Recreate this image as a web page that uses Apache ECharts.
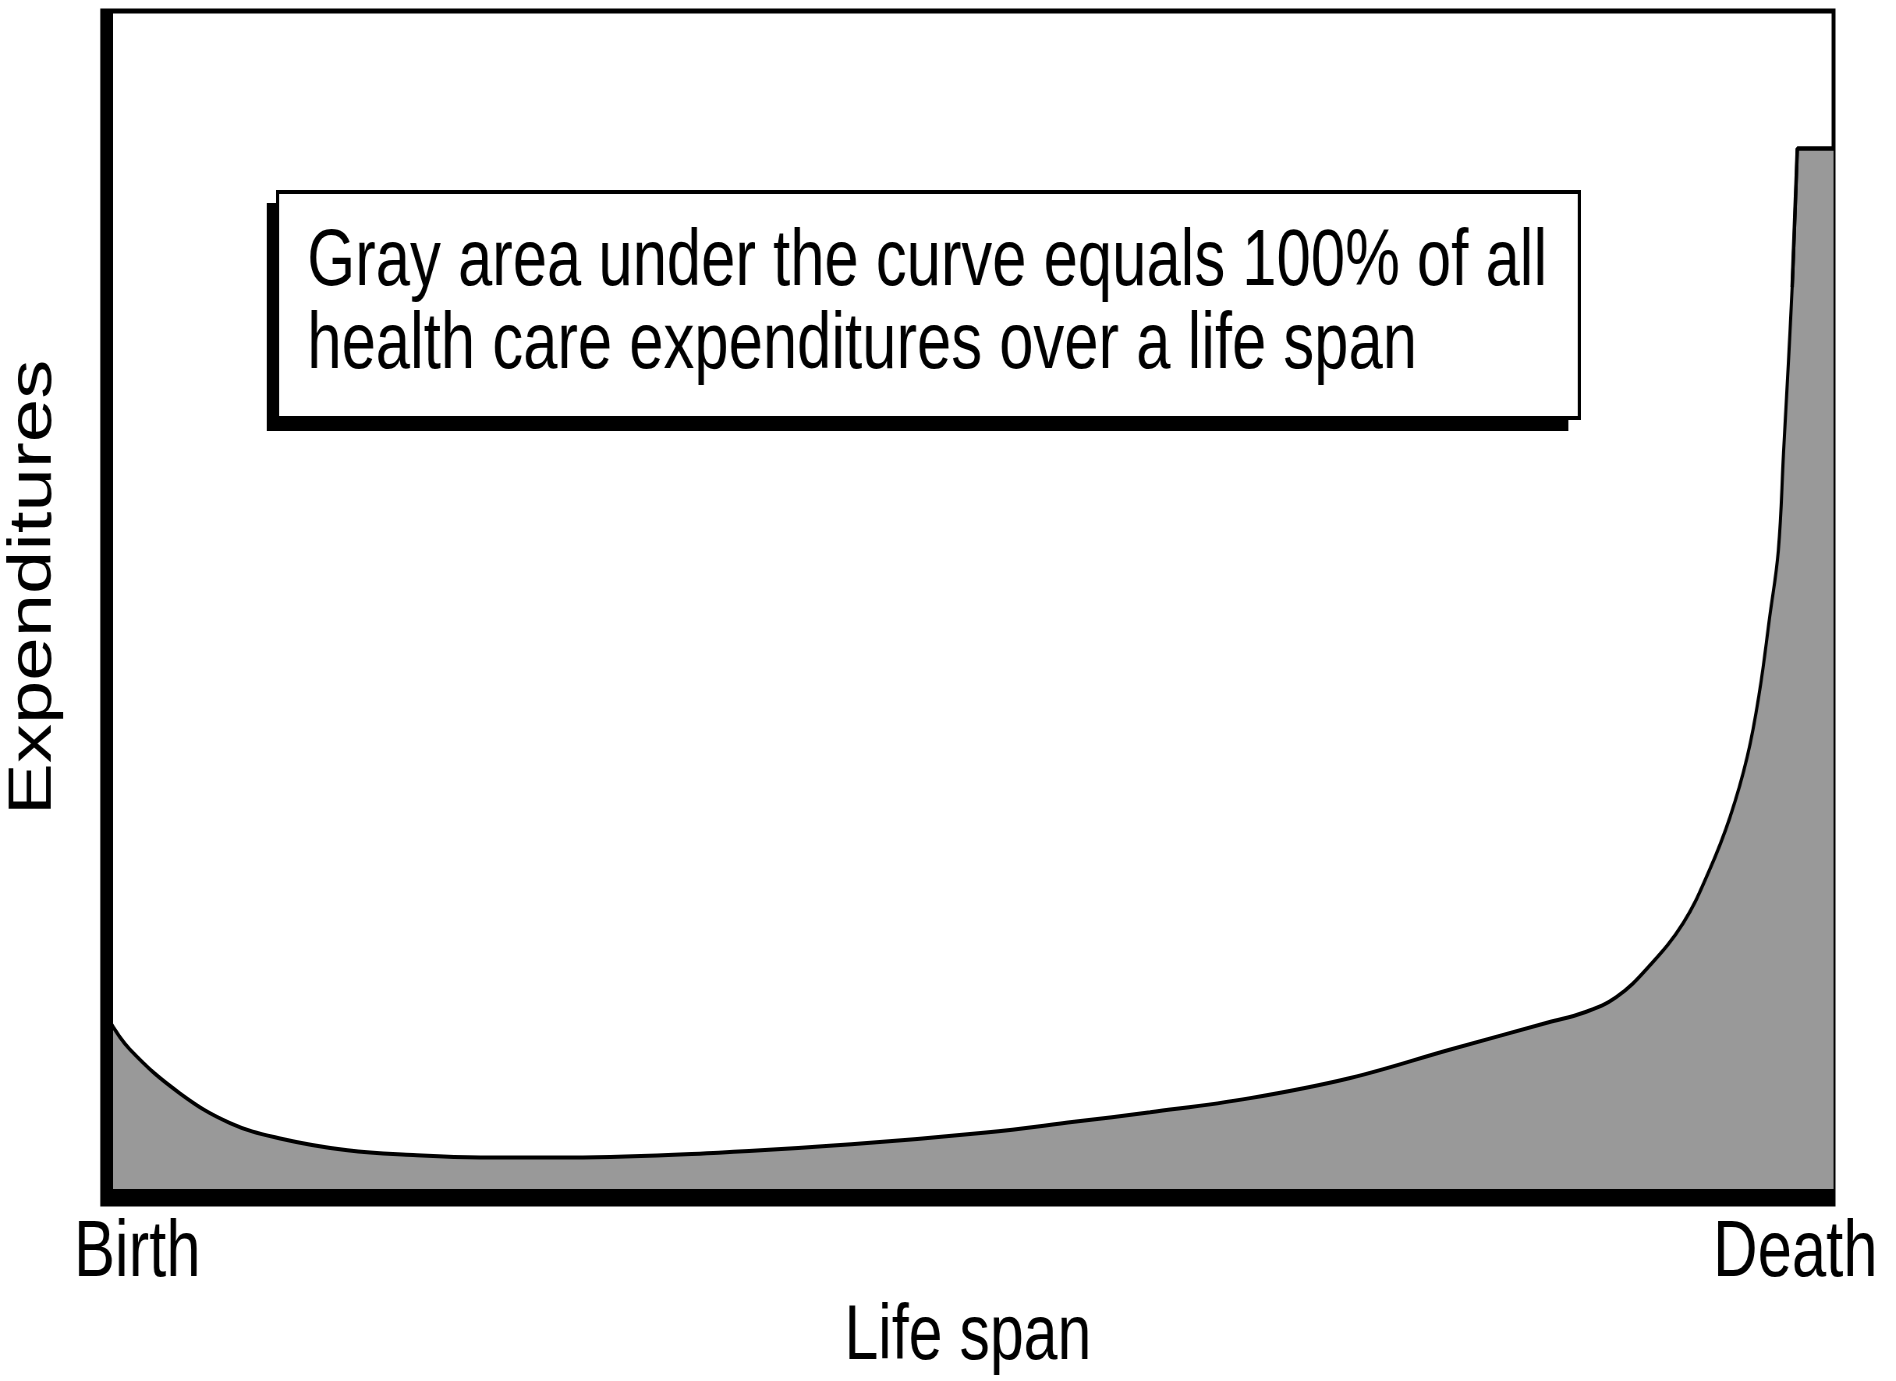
<!DOCTYPE html>
<html>
<head>
<meta charset="utf-8">
<title>Health care expenditures over a life span</title>
<script src="https://cdn.jsdelivr.net/npm/echarts@6/dist/echarts.min.js"></script>
<style>
html, body { margin: 0; padding: 0; background: #fff; overflow: hidden; }
/* the original figure is squeezed sideways, so the chart is drawn wider and squeezed back */
#chart { width: 2431px; height: 1381px; transform: scaleX(0.7799); transform-origin: 0 0; }
</style>
</head>
<body>
<div id="chart"></div>
<script>
// life span: 0 = birth, 100 = death
var lifeSpan = [0, 1.3, 4.2, 7.1, 10.0, 13.9, 17.7, 21.6, 26.8, 35.4, 43.1, 50.9, 56.0, 60.4,
	66.2, 72.0, 77.8, 83.5, 85.5, 87.4, 89.3, 91.3, 92.8, 94.0, 95.0, 95.7, 96.3, 96.8, 97.1, 97.6, 97.9];
var expenditures = [15.1, 12.4, 8.7, 6.2, 4.9, 3.9, 3.5, 3.3, 3.3, 3.7, 4.4, 5.4, 6.3, 7.1,
	8.3, 10.0, 12.4, 14.7, 15.5, 16.8, 19.4, 23.1, 27.5, 32.0, 37.1, 42.5, 48.9, 54.5, 62.7, 76.7, 88.4];
// last rise and the flat top just before death (drawn without smoothing)
var finalSpan = [97.6, 97.9, 100];
var finalLevel = [76.7, 88.4, 88.4];
var endLabels = ['Birth', 'Death'];
var xName = 'Life span';
var yName = 'Expenditures';
var note = 'Gray area under the curve equals 100% of all\nhealth care expenditures over a life span';

var chart = echarts.init(document.getElementById('chart'));

var font = '"Liberation Sans", Arial, Helvetica, sans-serif';

function pairs(xs, ys) {
	var out = [];
	for (var i = 0; i < xs.length; i++) {
		out.push([xs[i], ys[i]]);
	}
	return out;
}

var option = {
	animation: false,
	backgroundColor: '#fff',
	grid: {
		left: 131,
		right: 80,
		top: 11,
		bottom: 177,
		outerBoundsMode: 'none',
		containLabel: false,
		show: true,
		z: 3,
		backgroundColor: 'transparent',
		borderColor: '#000',
		borderWidth: 5
	},
	xAxis: {
		type: 'value',
		min: -0.31,
		max: 100,
		z: 5,
		axisLine: { onZero: true, lineStyle: { color: '#000', width: 15, cap: 'butt' } },
		axisTick: { show: false },
		splitLine: { show: false },
		axisLabel: {
			customValues: [0, 100],
			margin: 11,
			formatter: function(v) {
				return v === 0 ? '{b|' + endLabels[0] + '}' : '{d|' + endLabels[1] + '}';
			},
			rich: {
				b: { fontFamily: font, fontSize: 79, lineHeight: 79, color: '#000', padding: [0, 0, 0, 76] },
				d: { fontFamily: font, fontSize: 79, lineHeight: 79, color: '#000', padding: [0, 98, 0, 0] }
			}
		},
		name: xName,
		nameLocation: 'middle',
		nameGap: 92,
		nameTextStyle: { fontFamily: font, fontSize: 78, lineHeight: 78, color: '#000' }
	},
	yAxis: {
		type: 'value',
		min: -0.63,
		max: 100,
		z: 5,
		axisLine: { onZero: true, lineStyle: { color: '#000', width: 14, cap: 'butt' } },
		axisTick: { show: false },
		axisLabel: { show: false },
		splitLine: { show: false },
		name: yName,
		nameLocation: 'middle',
		nameGap: 49,
		nameTextStyle: {
			fontFamily: font,
			fontSize: 78,
			lineHeight: 78,
			color: '#000',
			padding: [0, 0, 0, 40]
		}
	},
	series: [{
		type: 'line',
		data: pairs(lifeSpan, expenditures),
		smooth: 0.4,
		symbol: 'none',
		z: 4,
		lineStyle: { color: '#000', width: 4 },
		areaStyle: { color: '#999999', opacity: 1 }
	}, {
		type: 'line',
		data: pairs(finalSpan, finalLevel),
		symbol: 'none',
		z: 4,
		lineStyle: { color: '#000', width: 4.5 },
		areaStyle: { color: '#999999', opacity: 1 }
	}],
	graphic: [{
		// shadow of the note box
		type: 'rect',
		z: 10,
		shape: { x: 342, y: 203, width: 1669, height: 228 },
		style: { fill: '#000' }
	}, {
		type: 'rect',
		z: 11,
		shape: { x: 356, y: 192, width: 1669, height: 226 },
		style: { fill: '#fff', stroke: '#000', lineWidth: 4 }
	}, {
		type: 'text',
		z: 12,
		x: 394,
		y: 222,
		style: {
			text: note,
			font: '79px ' + font,
			lineHeight: 83,
			fill: '#000',
			verticalAlign: 'top'
		}
	}]
};

chart.setOption(option);
</script>
</body>
</html>
